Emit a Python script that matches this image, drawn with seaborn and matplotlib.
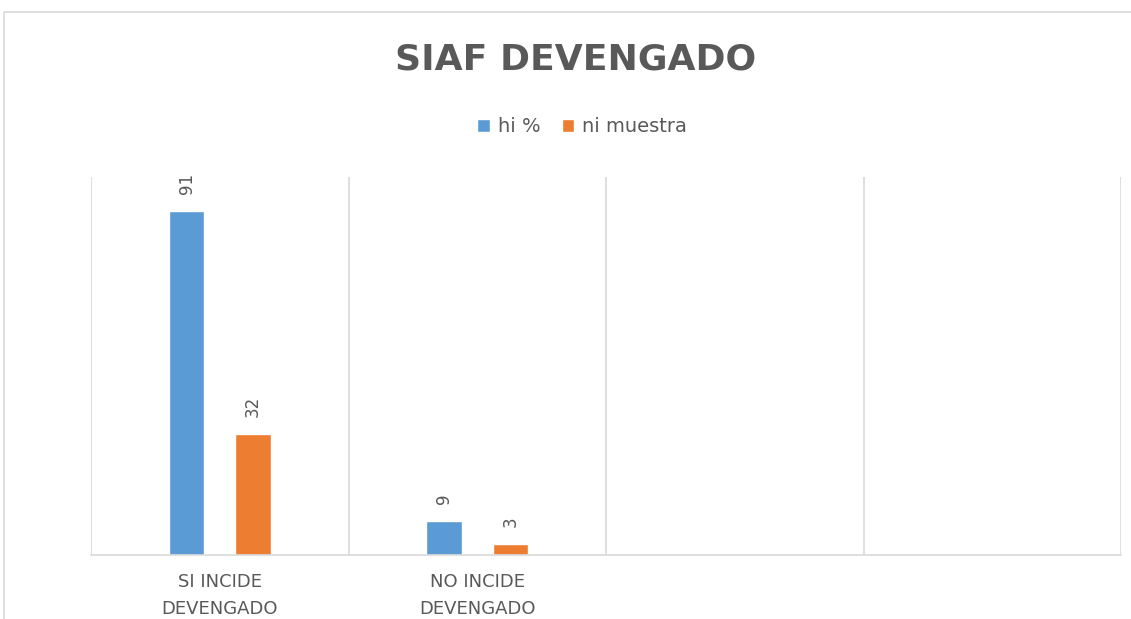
import matplotlib
matplotlib.use("Agg")
import matplotlib.pyplot as plt
from matplotlib.patches import Rectangle
import seaborn as sns
import pandas as pd

categories = ["SI INCIDE\nDEVENGADO", "NO INCIDE\nDEVENGADO", "cat3", "cat4"]
tick_labels = ["SI INCIDE\nDEVENGADO", "NO INCIDE\nDEVENGADO", "", ""]
series = ["hi %", "ni muestra"]
hi_pct = [91, 9]
ni_muestra = [32, 3]

df = pd.DataFrame({
    "categoria": categories[:2] * 2,
    "serie": [series[0]] * 2 + [series[1]] * 2,
    "valor": hi_pct + ni_muestra,
})

sns.set_theme(style="white")
text_grey = "#595959"
line_grey = "#D9D9D9"

fig = plt.figure(figsize=(11.31, 6.19), dpi=100)
ax = fig.add_axes([91 / 1131, 1 - 555 / 619, (1121 - 91) / 1131, (555 - 177) / 619])

sns.barplot(data=df, x="categoria", y="valor", hue="serie", order=categories,
            hue_order=series, palette=["#5B9BD5", "#ED7D31"],
            width=0.516, gap=0.47, saturation=1, ax=ax, legend=True)

for cont in ax.containers:
    ax.bar_label(cont, labels=[f"{v:g}" for v in cont.datavalues], rotation=90,
                 padding=12, fontsize=12, color=text_grey)

ax.set_xlim(-0.5, 3.5)
ax.set_ylim(0, 100)
ax.set_yticks([])
ax.set_xlabel("")
ax.set_ylabel("")
ax.set_xticks(range(4))
ax.set_xticklabels(tick_labels, fontsize=13, color=text_grey, linespacing=1.65)
ax.tick_params(axis="x", length=0, pad=13)
ax.set_xticks([-0.5, 0.5, 1.5, 2.5, 3.5], minor=True)
ax.tick_params(axis="x", which="minor", length=0)
ax.grid(True, axis="x", which="minor", color=line_grey, linewidth=1.2)
ax.grid(False, axis="x", which="major")
for side in ["top", "left", "right"]:
    ax.spines[side].set_visible(False)
ax.spines["bottom"].set_color(line_grey)
ax.spines["bottom"].set_linewidth(1.2)

leg = ax.legend(loc="center", bbox_to_anchor=(582 / 1131, 1 - 127 / 619), bbox_transform=fig.transFigure,
                ncol=2, frameon=False, fontsize=14, handlelength=0.65, handleheight=0.65,
                handletextpad=0.4, columnspacing=1.1)
for t in leg.get_texts():
    t.set_color(text_grey)

fig.text(576 / 1131, 1 - 60 / 619, "SIAF DEVENGADO", ha="center", va="center",
         fontsize=26, fontweight="bold", color=text_grey)

fig.patches.append(Rectangle((4 / 1131, -0.1), 1.2, 0.1 + 1 - 12 / 619,
                             transform=fig.transFigure, fill=False,
                             edgecolor=line_grey, linewidth=1.2))

fig.savefig("out.png", dpi=100)
